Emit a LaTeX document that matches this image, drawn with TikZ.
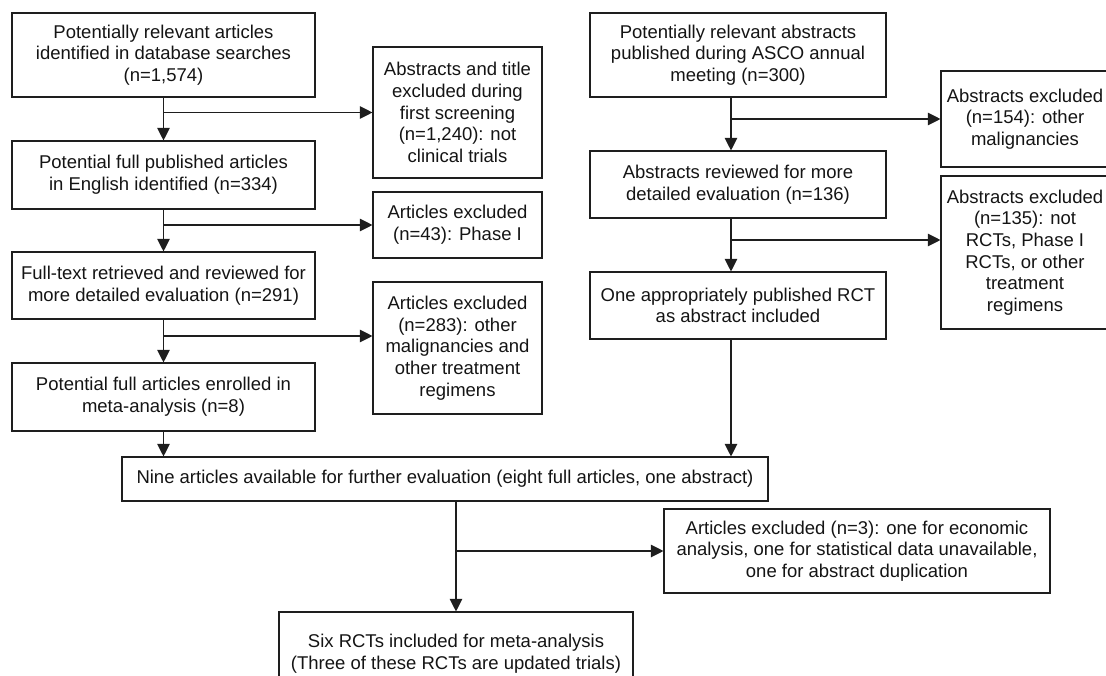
\documentclass[tikz,border=0pt]{standalone}
\usepackage{fontspec}
\setmainfont{Liberation Sans}
\usetikzlibrary{arrows.meta,calc}
\definecolor{linec}{HTML}{1E1E1E}
\definecolor{textc}{HTML}{141414}
\begin{document}
\begin{tikzpicture}[x=1pt,y=-1pt,
  box/.style={draw=linec, line width=1.1pt, align=center, inner sep=0pt, text=textc,
    font=\fontsize{18.5pt}{21.7pt}\selectfont},
  arr/.style={draw=linec, line width=1.1pt, -{Triangle[width=12.5pt,length=12.5pt]}}]
\useasboundingbox (0,0) rectangle (1106,675);
\clip (0,0) rectangle (1106,675);
% left column
\node[box, minimum width=303pt, minimum height=84pt] (A) at (163.5,55) {Potentially relevant articles\\identified in database searches\\(n=1,574)};
\node[box, minimum width=303pt, minimum height=68pt] (B) at (163.5,175) {Potential full published articles\\in English identified (n=334)};
\node[box, minimum width=303pt, minimum height=67pt] (C) at (163.5,285.5) {Full-text retrieved and reviewed for\\more detailed evaluation (n=291)};
\node[box, minimum width=303pt, minimum height=68pt] (D) at (163.5,397) {Potential full articles enrolled in\\meta-analysis (n=8)};
% left exclusions
\node[box, minimum width=169pt, minimum height=131pt] (E1) at (457.5,112.5) {Abstracts and title\\excluded during\\first screening\\(n=1,240): not\\clinical trials};
\node[box, minimum width=169pt, minimum height=66pt] (E2) at (457.5,225) {Articles excluded\\(n=43): Phase I};
\node[box, minimum width=169pt, minimum height=132pt] (E3) at (457.5,348) {Articles excluded\\(n=283): other\\malignancies and\\other treatment\\regimens};
% right column
\node[box, minimum width=296pt, minimum height=84pt] (F) at (738,55) {Potentially relevant abstracts\\published during ASCO annual\\meeting (n=300)};
\node[box, minimum width=296pt, minimum height=67pt] (G) at (738,184.5) {Abstracts reviewed for more\\detailed evaluation (n=136)};
\node[box, minimum width=296pt, minimum height=67pt] (H) at (738,305.5) {One appropriately published RCT\\as abstract included};
% right exclusions
\node[box, minimum width=168pt, minimum height=96pt] (R1) at (1025,119) {Abstracts excluded\\(n=154): other\\malignancies};
\node[box, minimum width=168pt, minimum height=153pt] (R2) at (1025,252.5) {Abstracts excluded\\(n=135): not\\RCTs, Phase I\\RCTs, or other\\treatment\\regimens};
% bottom
\node[box, minimum width=646pt, minimum height=44pt] (N) at (445,479) {Nine articles available for further evaluation (eight full articles, one abstract)};
\node[box, minimum width=386pt, minimum height=84pt] (X) at (857,551) {Articles excluded (n=3): one for economic\\analysis, one for statistical data unavailable,\\one for abstract duplication};
\node[box, minimum width=354pt, minimum height=84pt] (Z) at (456,654) {Six RCTs included for meta-analysis\\(Three of these RCTs are updated trials)};
% spines
\coordinate (sR) at (731,0);
\coordinate (c3) at (163.5,336);
\coordinate (g2) at (731,240);
% left connectors
\draw[arr] (A.south) -- (B.north);
\draw[arr] (A.south |- E1.west) -- (E1.west);
\draw[arr] (B.south) -- (C.north);
\draw[arr] (B.south |- E2.west) -- (E2.west);
\draw[arr] (C.south) -- (D.north);
\draw[arr] (c3) -- (c3 -| E3.west);
\draw[arr] (D.south) -- (D.south |- N.north);
% right connectors
\draw[arr] (F.south -| sR) -- (G.north -| sR);
\draw[arr] (sR |- R1.west) -- (R1.west);
\draw[arr] (G.south -| sR) -- (H.north -| sR);
\draw[arr] (g2) -- (g2 -| R2.west);
\draw[arr] (H.south -| sR) -- (N.north -| sR);
% bottom connectors
\draw[arr] (N.south -| Z.north) -- (Z.north);
\draw[arr] (Z.north |- X.west) -- (X.west);
\end{tikzpicture}
\end{document}
